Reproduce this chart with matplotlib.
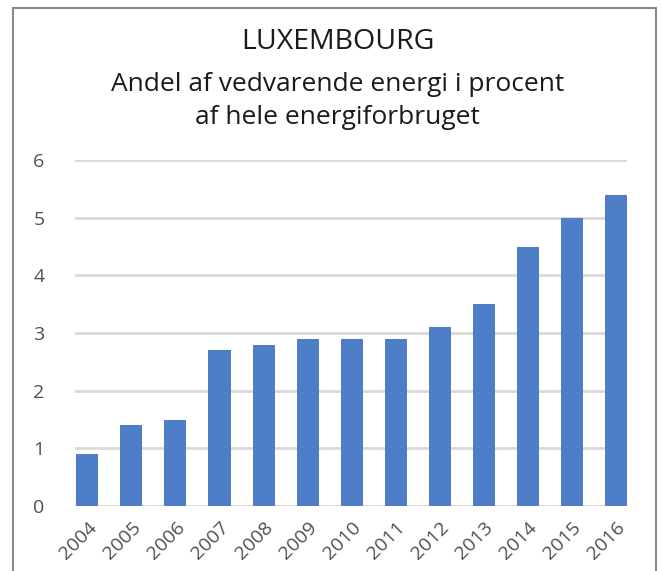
import matplotlib.pyplot as plt
from matplotlib.patches import Rectangle
from matplotlib.transforms import ScaledTranslation

plt.rcParams['font.family'] = ['Open Sans', 'DejaVu Sans']

years = ['2004', '2005', '2006', '2007', '2008', '2009', '2010',
         '2011', '2012', '2013', '2014', '2015', '2016']
andel = [0.9, 1.4, 1.5, 2.7, 2.8, 2.9, 2.9, 2.9, 3.1, 3.5, 4.5, 5.0, 5.4]

fig = plt.figure(figsize=(6.62, 5.71), dpi=100)
ax = fig.add_axes([75 / 662, 1 - 506 / 571, (627 - 75) / 662, (506 - 160) / 571])

x = range(len(years))
ax.bar(x, andel, width=0.5, color='#4F7EC9', zorder=3)
ax.set_xlim(-0.28, len(years) - 1 + 0.25)
ax.set_ylim(0, 6)
ax.set_yticks(range(0, 7))
ax.yaxis.grid(True, color='#D9D9D9', linewidth=2, zorder=0)
ax.set_xticks(list(x))
ax.set_xticklabels(years, rotation=45, ha='right', rotation_mode='anchor')
shift = ScaledTranslation(14 / 100, 0, fig.dpi_scale_trans)
for lbl in ax.get_xticklabels():
    lbl.set_transform(lbl.get_transform() + shift)
for s in ax.spines.values():
    s.set_visible(False)
ax.tick_params(axis='both', length=0, labelsize=14, colors='#505050')
ax.tick_params(axis='y', pad=22)
ax.tick_params(axis='x', pad=9)

fig.text(0.51, 1 - 42 / 571, 'LUXEMBOURG', ha='center', va='center', fontsize=20.5, color='#1A1A1A')
fig.text(0.51, 1 - 101 / 571, 'Andel af vedvarende energi i procent\naf hele energiforbruget',
         ha='center', va='center', fontsize=19, color='#1A1A1A', linespacing=1.42)

fig.patches.append(Rectangle((13 / 662, -0.05), (656 - 13) / 662, 1.05 - 8 / 571,
                             transform=fig.transFigure, fill=False,
                             edgecolor='#888888', linewidth=1.5))

fig.savefig('out.png', dpi=100)
